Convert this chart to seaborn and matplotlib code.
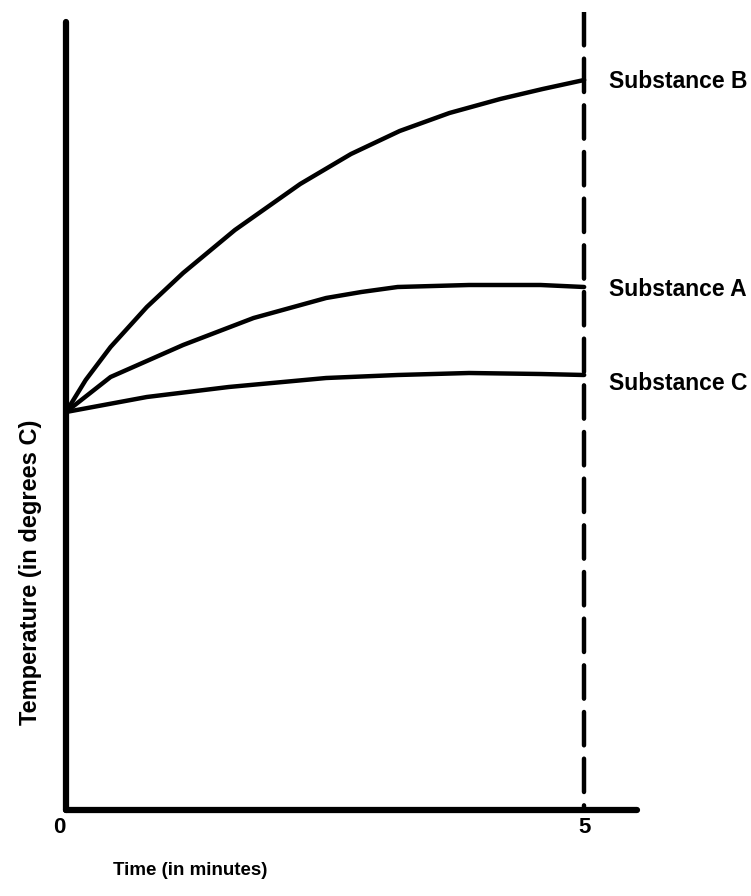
import matplotlib
matplotlib.use("Agg")
import matplotlib.pyplot as plt
import numpy as np
import pandas as pd
import seaborn as sns

# time in minutes, temperature in arbitrary units (no scale shown on the chart)
time_b = [0, 0.19, 0.43, 0.78, 1.13, 1.63, 2.26, 2.75, 3.22, 3.70, 4.19, 4.60, 5.0]
temp_b = [39.8, 43.0, 46.3, 50.3, 53.7, 58.0, 62.6, 65.6, 67.9, 69.7, 71.1, 72.1, 73.0]

time_a = [0, 0.43, 1.13, 1.81, 2.51, 2.85, 3.20, 3.89, 4.58, 5.0]
temp_a = [39.8, 43.3, 46.5, 49.2, 51.2, 51.8, 52.3, 52.5, 52.5, 52.3]

time_c = [0, 0.78, 1.57, 2.51, 3.20, 3.89, 4.58, 5.0]
temp_c = [39.8, 41.3, 42.3, 43.2, 43.5, 43.7, 43.6, 43.5]

substances = ["Substance B", "Substance A", "Substance C"]
tick_vals = [0, 5]
tick_labels = ["0", "5"]

df = pd.concat([
    pd.DataFrame({"time": time_b, "temp": temp_b, "substance": substances[0]}),
    pd.DataFrame({"time": time_a, "temp": temp_a, "substance": substances[1]}),
    pd.DataFrame({"time": time_c, "temp": temp_c, "substance": substances[2]}),
])

sns.set_style("white")
plt.rcParams["font.family"] = ["Liberation Sans", "DejaVu Sans"]
plt.rcParams["text.color"] = "black"
plt.rcParams["xtick.color"] = "black"

fig = plt.figure(figsize=(7.51, 8.96), dpi=100)
ax = fig.add_axes([66 / 751, 86 / 896, 571 / 751, 798 / 896])

sns.lineplot(
    data=df,
    x="time",
    y="temp",
    hue="substance",
    palette={s: "black" for s in substances},
    linewidth=3.2,
    legend=False,
    ax=ax
)

ax.set_xlim(0, 5.51)
ax.set_ylim(0, 79.8)

# dashed line at 5 minutes, drawn top-down so a full dash starts at the top
ax.axvline(5, ymin=1, ymax=0, color="black", linewidth=3.2,
           linestyle=(0, (7.5, 3)), dash_capstyle="round")

# axes spines
sns.despine(ax=ax)
for side in ["left", "bottom"]:
    ax.spines[side].set_linewidth(4.5)
    ax.spines[side].set_color("black")
    ax.spines[side].set_capstyle("round")
ax.spines["left"].set_bounds(0, 78.8)

ax.set_yticks([])
ax.set_xticks(tick_vals)
ax.set_xticklabels(tick_labels, fontsize=16, fontweight="bold")
ax.get_xticklabels()[0].set_horizontalalignment("right")
ax.tick_params(axis="x", length=0, pad=5)
ax.set_xlabel("")
ax.set_ylabel("")

# substance labels beside the line ends
for name, val, dy in zip(substances, [temp_b[-1], temp_a[-1], temp_c[-1]], [-0.2, -0.2, -0.8]):
    ax.text(5.24, val + dy, name, fontsize=16.5, fontweight="bold",
            ha="left", va="center", clip_on=False)

ax.text(0.217, -0.076, "Time (in minutes)", transform=ax.transAxes,
        fontsize=13.5, fontweight="bold", ha="center", va="center")
ax.text(-0.063, 0.298, "Temperature (in degrees C)", transform=ax.transAxes,
        fontsize=17, fontweight="bold", ha="center", va="center", rotation=90)

fig.savefig("out.png", dpi=100)
